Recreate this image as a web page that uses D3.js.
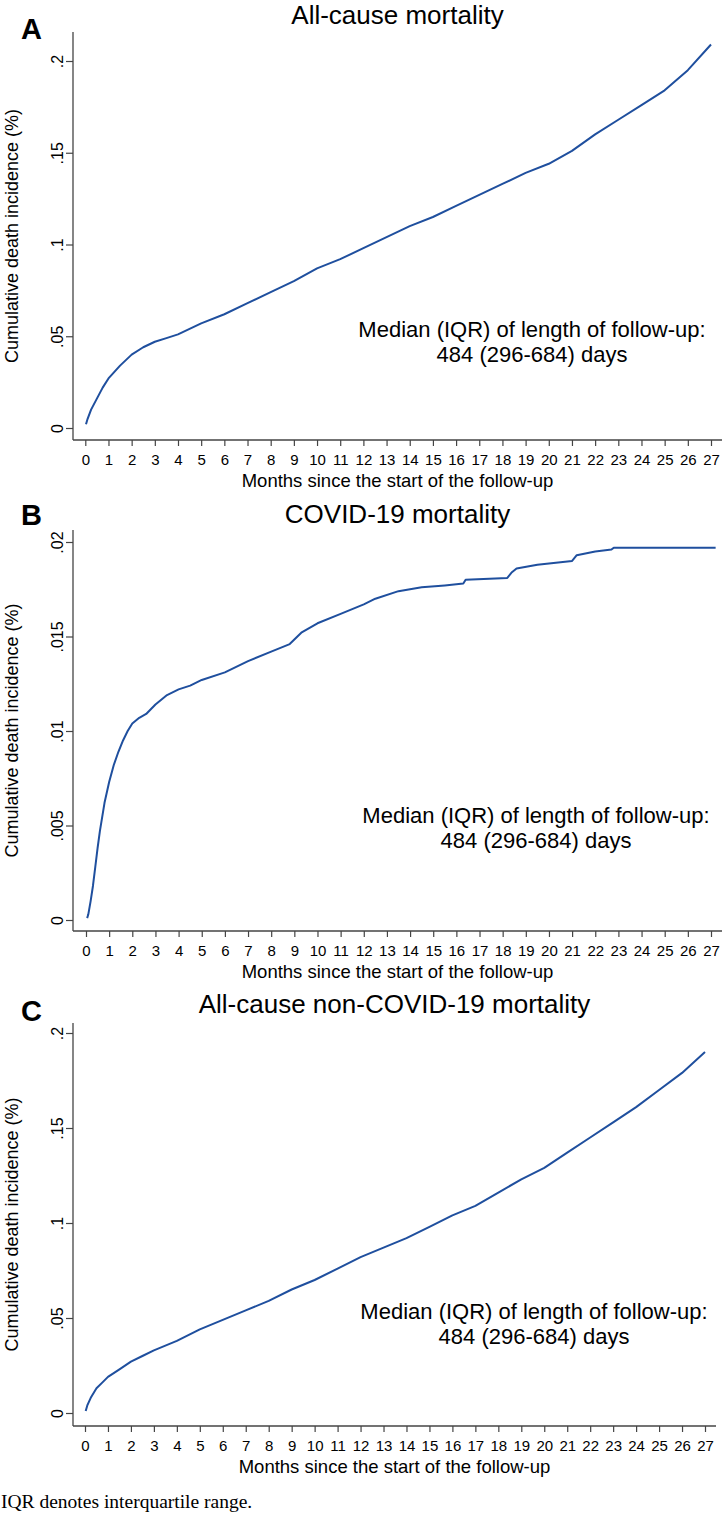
<!DOCTYPE html>
<html lang="en">
<head>
<meta charset="utf-8">
<title>Cumulative death incidence</title>
<script src="https://cdn.jsdelivr.net/npm/d3@7"></script>
<style>
  body { margin: 0; background: #fff; }
  svg text { font-family: "Liberation Sans", Arial, sans-serif; fill: #000; }
</style>
</head>
<body>
<script>
// months since start of follow-up, tick labels
var monthTicks = d3.range(0, 28);

// A: all-cause mortality (month, cumulative %)
var allMonths = [0.03, 0.1, 0.25, 0.5, 0.75, 1, 1.5, 2, 2.5, 3, 3.5, 4, 5, 6, 7, 8, 9, 10, 11, 12, 13, 14, 15, 16, 17, 18, 19, 20, 21, 22, 23, 24, 25, 26, 27];
var allValues = [0.002, 0.005, 0.010, 0.016, 0.022, 0.027, 0.034, 0.040, 0.044, 0.047, 0.049, 0.051, 0.057, 0.062, 0.068, 0.074, 0.080, 0.087, 0.092, 0.098, 0.104, 0.110, 0.115, 0.121, 0.127, 0.133, 0.139, 0.144, 0.151, 0.160, 0.168, 0.176, 0.184, 0.195, 0.209];

// B: COVID-19 mortality
var covidMonths = [0.05, 0.1, 0.2, 0.3, 0.4, 0.5, 0.6, 0.8, 1.0, 1.2, 1.4, 1.6, 1.8, 2.0, 2.3, 2.6, 3.0, 3.5, 4.0, 4.5, 5, 6, 7, 8, 8.8, 9.3, 10, 11, 12, 12.5, 13.5, 14.5, 15.5, 16.3, 16.4, 18.2, 18.4, 18.6, 19.5, 21.0, 21.2, 22.0, 22.7, 22.8, 27.2];
var covidValues = [0.0001, 0.0003, 0.0010, 0.0018, 0.0028, 0.0038, 0.0047, 0.0062, 0.0073, 0.0082, 0.0089, 0.0095, 0.0100, 0.0104, 0.0107, 0.0109, 0.0114, 0.0119, 0.0122, 0.0124, 0.0127, 0.0131, 0.0137, 0.0142, 0.0146, 0.0152, 0.0157, 0.0162, 0.0167, 0.0170, 0.0174, 0.0176, 0.0177, 0.0178, 0.0180, 0.0181, 0.0184, 0.0186, 0.0188, 0.0190, 0.0193, 0.0195, 0.0196, 0.0197, 0.0197];

// C: all-cause non-COVID-19 mortality
var nonCovidMonths = [0.03, 0.1, 0.25, 0.5, 0.75, 1, 1.5, 2, 2.5, 3, 4, 5, 6, 7, 8, 9, 10, 11, 12, 13, 14, 15, 16, 17, 18, 19, 20, 21, 22, 23, 24, 25, 26, 27];
var nonCovidValues = [0.001, 0.004, 0.008, 0.013, 0.016, 0.019, 0.023, 0.027, 0.030, 0.033, 0.038, 0.044, 0.049, 0.054, 0.059, 0.065, 0.070, 0.076, 0.082, 0.087, 0.092, 0.098, 0.104, 0.109, 0.116, 0.123, 0.129, 0.137, 0.145, 0.153, 0.161, 0.170, 0.179, 0.190];

var panels = [
  { letter: "A", title: "All-cause mortality", months: allMonths, values: allValues,
    yTicks: [0, 0.05, 0.1, 0.15, 0.2],
    top: 32, base: 440, left: 73, right: 722, x0: 85.3, x27: 711, y0: 428, yTop: 61, letterY: 39, titleY: 24, noteX: 532, noteY: 337 },
  { letter: "B", title: "COVID-19 mortality", months: covidMonths, values: covidValues,
    yTicks: [0, 0.005, 0.01, 0.015, 0.02],
    top: 530, base: 931, left: 73, right: 722, x0: 86, x27: 711, y0: 920, yTop: 542, letterY: 525, titleY: 523, noteX: 536, noteY: 823 },
  { letter: "C", title: "All-cause non-COVID-19 mortality", months: nonCovidMonths, values: nonCovidValues,
    yTicks: [0, 0.05, 0.1, 0.15, 0.2],
    top: 1023, base: 1426, left: 73, right: 716, x0: 85, x27: 705, y0: 1413, yTop: 1033, letterY: 1021, titleY: 1013, noteX: 534, noteY: 1319 }
];

var w = 728, h = 1514;
var axisColor = "#444";
var lineColor = "#1f4f9e";

var svg = d3.select("body").append("svg")
  .attr("width", w)
  .attr("height", h);

panels.forEach(function(p) {
  var g = svg.append("g");
  var yMax = p.yTicks[p.yTicks.length - 1];

  var x = d3.scaleLinear().domain([0, 27]).range([p.x0, p.x27]);
  var y = d3.scaleLinear().domain([0, yMax]).range([p.y0, p.yTop]);

  // axis lines (Stata style, extend past the ticks)
  g.append("line")
    .attr("x1", p.left).attr("x2", p.left)
    .attr("y1", p.top).attr("y2", p.base)
    .attr("stroke", axisColor).attr("stroke-width", 1.3);
  g.append("line")
    .attr("x1", p.left).attr("x2", p.right)
    .attr("y1", p.base).attr("y2", p.base)
    .attr("stroke", axisColor).attr("stroke-width", 1.3);

  // x-axis ticks
  var xAxis = d3.axisBottom(x)
    .tickValues(monthTicks)
    .tickSize(6)
    .tickPadding(4);
  var gx = g.append("g")
    .attr("transform", "translate(0," + p.base + ")")
    .call(xAxis);
  gx.select(".domain").remove();
  gx.selectAll("line").attr("stroke", axisColor).attr("stroke-width", 1.2);
  gx.selectAll("text")
    .attr("dy", 0)
    .attr("y", 25)
    .style("font-size", "15px")
    .style("font-family", "'Liberation Sans', Arial, sans-serif")
    .attr("fill", "#111");

  // y-axis ticks, vertical labels
  var yAxis = d3.axisLeft(y)
    .tickValues(p.yTicks)
    .tickSize(7)
    .tickFormat(function(d) { return d === 0 ? "0" : String(d).replace(/^0/, ""); });
  var gy = g.append("g")
    .attr("transform", "translate(" + p.left + ",0)")
    .call(yAxis);
  gy.select(".domain").remove();
  gy.selectAll("line").attr("stroke", axisColor).attr("stroke-width", 1.2);
  gy.selectAll("text")
    .attr("transform", "rotate(-90)")
    .attr("text-anchor", "middle")
    .attr("x", 0)
    .attr("y", -10)
    .attr("dy", 0)
    .style("font-size", "16px")
    .style("font-family", "'Liberation Sans', Arial, sans-serif")
    .attr("fill", "#111");

  // axis titles
  g.append("text")
    .attr("x", (p.left + p.right) / 2)
    .attr("y", p.base + 47)
    .attr("text-anchor", "middle")
    .style("font-size", "18.5px")
    .text("Months since the start of the follow-up");

  g.append("text")
    .attr("transform", "translate(18," + ((p.top + p.base) / 2) + ") rotate(-90)")
    .attr("text-anchor", "middle")
    .style("font-size", "18px")
    .text("Cumulative death incidence (%)");

  // panel title and letter
  g.append("text")
    .attr("x", (p.left + p.right) / 2)
    .attr("y", p.titleY)
    .attr("text-anchor", "middle")
    .style("font-size", "26px")
    .text(p.title);

  g.append("text")
    .attr("x", 21)
    .attr("y", p.letterY)
    .style("font-size", "29px")
    .style("font-weight", "bold")
    .text(p.letter);

  // curve
  var pts = p.months.map(function(m, i) { return [m, p.values[i]]; });
  var line = d3.line()
    .x(function(d) { return x(d[0]); })
    .y(function(d) { return y(d[1]); });
  g.append("path")
    .datum(pts)
    .attr("d", line)
    .attr("fill", "none")
    .attr("stroke", lineColor)
    .attr("stroke-width", 2)
    .attr("stroke-linejoin", "round");

  // follow-up note
  var note = g.append("text")
    .attr("text-anchor", "middle")
    .style("font-size", "22px");
  note.append("tspan").attr("x", p.noteX).attr("y", p.noteY).text("Median (IQR) of length of follow-up:");
  note.append("tspan").attr("x", p.noteX).attr("y", p.noteY + 25).text("484 (296-684) days");
});

// footnote
svg.append("text")
  .attr("x", 1)
  .attr("y", 1508)
  .style("font-family", "'Liberation Serif', 'Times New Roman', serif")
  .style("font-size", "19.5px")
  .text("IQR denotes interquartile range.");
</script>
</body>
</html>
